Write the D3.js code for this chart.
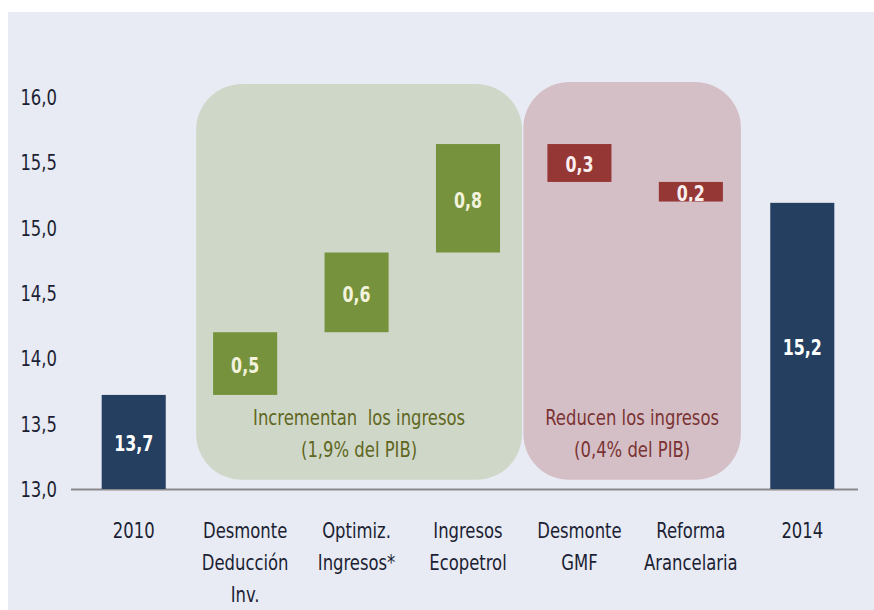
<!DOCTYPE html>
<html>
<head>
<meta charset="utf-8">
<script src="https://cdn.jsdelivr.net/npm/d3@7"></script>
<style>
  body { margin: 0; background: #fff; }
  svg text { font-family: 'Liberation Sans Narrow', 'DejaVu Sans Condensed', 'Arial Narrow', sans-serif; }
</style>
</head>
<body>
<svg id="chart" width="874" height="610"></svg>
<script>
// categorias (cada una en varias lineas)
const categories = [
  ['2010'],
  ['Desmonte', 'Deducción', 'Inv.'],
  ['Optimiz.', 'Ingresos*'],
  ['Ingresos', 'Ecopetrol'],
  ['Desmonte', 'GMF'],
  ['Reforma', 'Arancelaria'],
  ['2014']
];
const kinds = ['total', 'up', 'up', 'up', 'down', 'down', 'total'];
// valor inicial, variaciones y valor final (% del PIB)
const startValue = 13.72;
const deltas = [0.48, 0.61, 0.83, -0.29, -0.15];
const endValue = 15.19;
const valueLabels = ['13,7', '0,5', '0,6', '0,8', '0,3', '0,2', '15,2'];
const yTicks = [13.0, 13.5, 14.0, 14.5, 15.0, 15.5, 16.0];

// cajas de agrupacion
const groups = [
  { first: 1, last: 3, lines: ['Incrementan  los ingresos', '(1,9% del PIB)'], fill: '#cfd8c8', color: '#5f6622', top: 16.1 },
  { first: 4, last: 5, lines: ['Reducen los ingresos', '(0,4% del PIB)'], fill: '#d5bfc6', color: '#7a3333', top: 16.115 }
];

const colors = { total: '#243f60', up: '#77923c', down: '#953735' };
const labelColors = { total: '#ffffff', up: '#f3f2dc', down: '#fbeeee' };

// la fuente disponible es mas ancha que la original: comprimir en horizontal
const SQUEEZE = 0.87;

// construir tramos de la cascada
const bars = [];
let run = startValue;
bars.push({ i: 0, y0: 13.0, y1: startValue });
deltas.forEach((d, k) => {
  bars.push({ i: k + 1, y0: run, y1: run + d });
  run += d;
});
bars.push({ i: 6, y0: 13.0, y1: endValue });

const svg = d3.select('#chart');
svg.append('rect').attr('x', 8).attr('y', 12).attr('width', 866).attr('height', 598).attr('fill', '#e8ebf4');

const x = d3.scaleBand().domain(d3.range(categories.length)).range([78, 858]).paddingInner(0.425).paddingOuter(0.2125);
const y = d3.scaleLinear().domain([13, 16]).range([489, 97]);

// cajas de fondo
const gBox = svg.append('g');
groups.forEach(g => {
  const x0 = x(g.first) - (g.first === 1 ? 17 : 24);
  const x1 = x(g.last) + x.bandwidth() + (g.last === 3 ? 22 : 18);
  gBox.append('rect')
    .attr('x', x0).attr('y', y(g.top))
    .attr('width', x1 - x0).attr('height', y(13.07) - y(g.top))
    .attr('rx', 46).attr('ry', 46)
    .attr('fill', g.fill);
  const t = gBox.append('text')
    .attr('transform', `translate(${(x0 + x1) / 2},425) scale(${SQUEEZE},1)`)
    .attr('text-anchor', 'middle')
    .attr('fill', g.color)
    .style('font-size', '21px')
    .style('white-space', 'pre');
  g.lines.forEach((l, k) => t.append('tspan').attr('x', 0).attr('y', k * 32).text(l));
});

// eje y
const yAxis = svg.append('g')
  .attr('transform', 'translate(57,0)')
  .call(d3.axisLeft(y).tickValues(yTicks).tickSize(0).tickPadding(0).tickFormat(d => d.toFixed(1).replace('.', ',')));
yAxis.select('.domain').remove();
yAxis.selectAll('text')
  .attr('x', 0)
  .attr('transform', `scale(${SQUEEZE},1)`)
  .attr('fill', '#1c1f33')
  .attr('dy', '0.35em')
  .style('font-size', '21px');

// linea base
svg.append('line')
  .attr('x1', 71).attr('x2', 858)
  .attr('y1', y(13) + 0.5).attr('y2', y(13) + 0.5)
  .attr('stroke', '#8a8a8a').attr('stroke-width', 2);

// barras
const defs = svg.append('defs');
bars.forEach(b => {
  defs.append('clipPath').attr('id', 'clip' + b.i)
    .append('rect')
    .attr('x', x(b.i)).attr('y', y(Math.max(b.y0, b.y1)))
    .attr('width', x.bandwidth()).attr('height', Math.abs(y(b.y0) - y(b.y1)));
});
svg.append('g').selectAll('rect')
  .data(bars)
  .join('rect')
  .attr('x', d => x(d.i))
  .attr('y', d => y(Math.max(d.y0, d.y1)))
  .attr('width', x.bandwidth())
  .attr('height', d => Math.abs(y(d.y0) - y(d.y1)))
  .attr('fill', d => colors[kinds[d.i]]);

svg.append('g').selectAll('g')
  .data(bars)
  .join('g')
  .attr('clip-path', d => `url(#clip${d.i})`)
  .append('text')
  .attr('transform', d => `translate(${x(d.i) + x.bandwidth() / 2},${(y(d.y0) + y(d.y1)) / 2 + 2}) scale(0.84,1)`)
  .attr('dy', '0.35em')
  .attr('text-anchor', 'middle')
  .attr('fill', d => labelColors[kinds[d.i]])
  .style('font-size', '21px')
  .style('font-weight', 'bold')
  .text(d => valueLabels[d.i]);

// eje x
const xAxis = svg.append('g')
  .attr('transform', 'translate(0,' + y(13) + ')')
  .call(d3.axisBottom(x).tickSize(0).tickFormat(''));
xAxis.select('.domain').remove();
xAxis.selectAll('.tick').each(function (d) {
  const t = d3.select(this).append('text')
    .attr('transform', `scale(${SQUEEZE},1)`)
    .attr('text-anchor', 'middle')
    .attr('fill', '#1c1f33')
    .style('font-size', '21px');
  categories[d].forEach((l, k) => t.append('tspan').attr('x', 0).attr('y', 49 + k * 32).text(l));
});
</script>
</body>
</html>
